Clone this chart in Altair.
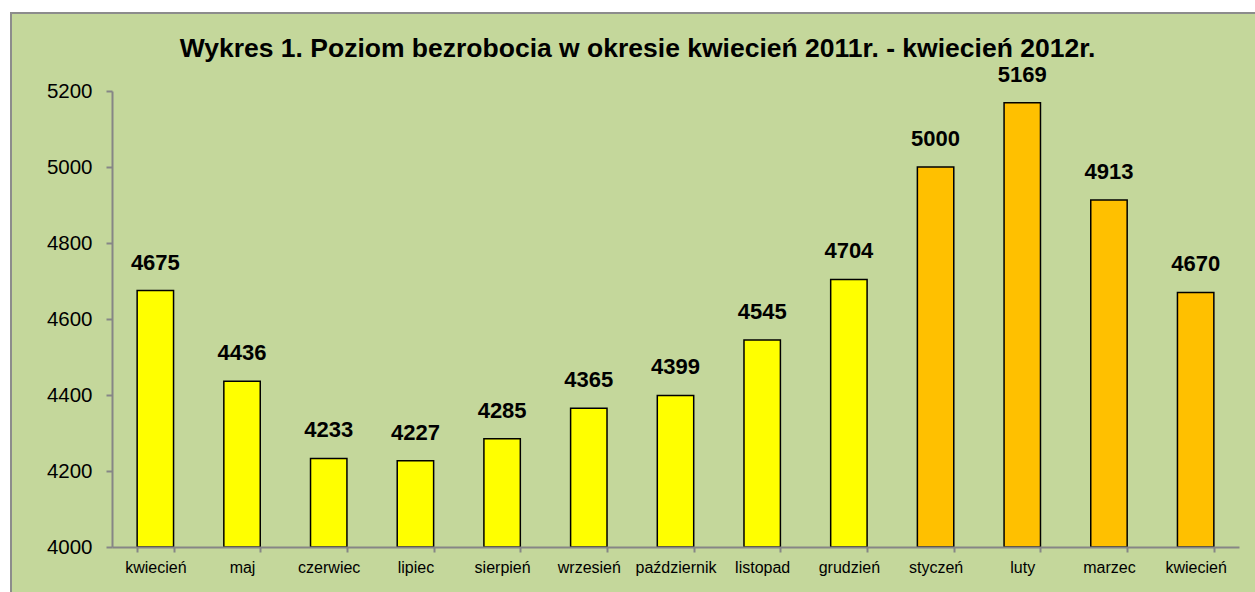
import altair as alt
import pandas as pd

months = ["kwiecień", "maj", "czerwiec", "lipiec", "sierpień", "wrzesień",
          "październik", "listopad", "grudzień", "styczeń", "luty", "marzec", "kwiecień"]
values = [4675, 4436, 4233, 4227, 4285, 4365, 4399, 4545, 4704, 5000, 5169, 4913, 4670]
years = ["2011"] * 9 + ["2012"] * 4
y_ticks = [4000, 4200, 4400, 4600, 4800, 5000, 5200]

df = pd.DataFrame({"idx": list(range(len(months))), "month": months,
                   "value": values, "year": years})

label_expr = "[" + ",".join("'" + m + "'" for m in months) + "][datum.value]"

W, H = 1127, 456
FONT = "Liberation Sans"

x_enc = alt.X("idx:O", title=None,
              scale=alt.Scale(paddingInner=0.58, paddingOuter=0.29),
              axis=alt.Axis(labelExpr=label_expr, labelAngle=0, labelFontSize=16,
                            labelColor="black", labelFont=FONT, labelPadding=7,
                            tickBand="extent", tickSize=5, tickColor="#868686",
                            domainColor="#868686", domainWidth=2, tickWidth=2, zindex=1))
y_enc = alt.Y("value:Q", title=None,
              scale=alt.Scale(domain=[4000, 5200], zero=False, nice=False),
              axis=alt.Axis(values=y_ticks, format="d", grid=False, labelFontSize=20.5,
                            labelColor="black", labelFont=FONT, labelPadding=14,
                            tickSize=6, tickColor="#868686", domainColor="#868686",
                            domainWidth=2, tickWidth=2, zindex=1))

panel = alt.Chart(df).mark_rect(fill="#C4D79B", stroke="#8C8C8C", strokeWidth=2).encode(
    x=alt.value(-101), x2=alt.value(W + 140), y=alt.value(-78), y2=alt.value(H + 80)
).transform_filter("datum.idx == 0")

bars = alt.Chart(df).mark_bar(stroke="black", strokeWidth=1.5).encode(
    x=x_enc, y=y_enc, y2=alt.datum(4000),
    color=alt.Color("year:N", scale=alt.Scale(domain=["2011", "2012"],
                                              range=["#FFFF00", "#FFC000"]), legend=None)
)

labels = alt.Chart(df).mark_text(baseline="bottom", dy=-16, fontSize=22,
                                 fontWeight="bold", font=FONT, color="black").encode(
    x=alt.X("idx:O"), y=alt.Y("value:Q"), text=alt.Text("value:Q", format="d")
)

chart = alt.layer(panel, bars, labels).properties(
    width=W, height=H,
    title=alt.TitleParams("Wykres 1. Poziom bezrobocia w okresie kwiecień 2011r. - kwiecień 2012r.",
                          fontSize=26.5, fontWeight="bold", font=FONT, color="black",
                          anchor="middle", frame="group", dx=-38, offset=-50),
    padding={"left": 112, "top": 91, "right": 16, "bottom": 45},
    autosize=alt.AutoSizeParams(type="none"),
    background="white",
).configure_view(stroke=None)

chart.save("out.html", embed_options={"renderer": "svg", "actions": False})
